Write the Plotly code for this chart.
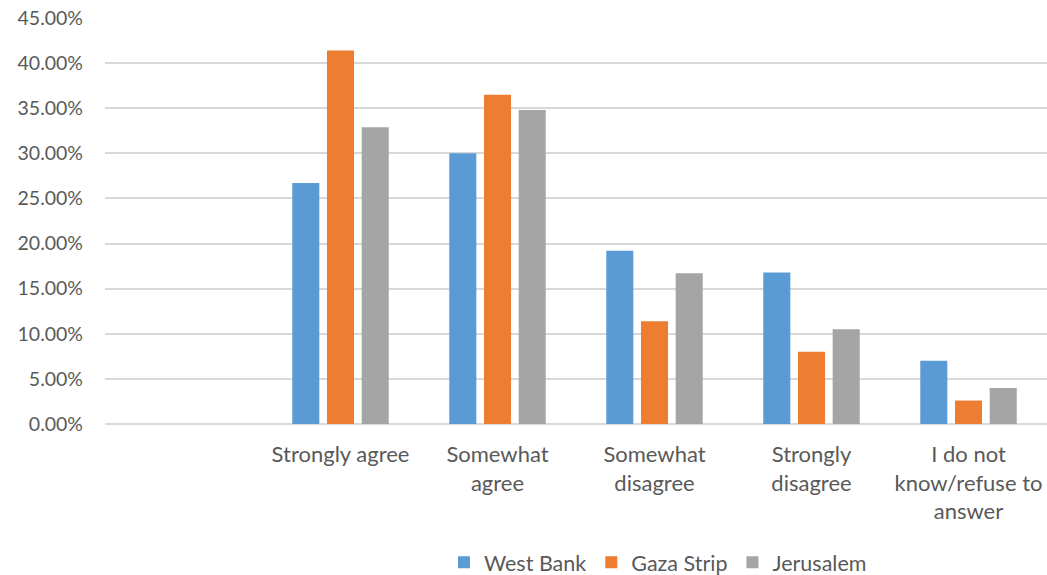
import plotly.graph_objects as go

categories = [" ", "Strongly agree", "Somewhat<br>agree", "Somewhat<br>disagree",
              "Strongly<br>disagree", "I do not<br>know/refuse to<br>answer"]
west_bank = [None, 0.267, 0.300, 0.192, 0.168, 0.070]
gaza_strip = [None, 0.414, 0.365, 0.114, 0.080, 0.026]
jerusalem = [None, 0.329, 0.348, 0.167, 0.105, 0.040]
y_ticks = [0, 0.05, 0.10, 0.15, 0.20, 0.25, 0.30, 0.35, 0.40, 0.45]

font_family = "Lato, Open Sans, sans-serif"
text_color = "#595959"

fig = go.Figure()
for name, vals, color in [("West Bank", west_bank, "#5B9BD5"),
                          ("Gaza Strip", gaza_strip, "#ED7D31"),
                          ("Jerusalem", jerusalem, "#A5A5A5")]:
    fig.add_trace(go.Bar(x=categories, y=vals, name=name, marker_color=color,
                         marker_line_width=0))

fig.update_layout(
    width=1047, height=575,
    margin=dict(l=105, r=0, t=18, b=151),
    plot_bgcolor="white", paper_bgcolor="white",
    barmode="group", bargap=0.337, bargroupgap=0.22,
    font=dict(family=font_family, size=20, color=text_color),
    showlegend=True,
    legend=dict(orientation="h", x=0.587, xanchor="center",
                yref="container", y=0.022, yanchor="middle",
                font=dict(size=21.5, color=text_color), traceorder="normal",
                itemwidth=30),
    xaxis=dict(type="category", categoryorder="array", categoryarray=categories,
               showgrid=False, showline=False, ticks="", automargin=False,
               ticklabelstandoff=15, tickfont=dict(size=22)),
    yaxis=dict(range=[0, 0.45], tickvals=y_ticks, tickformat=".2%", automargin=False,
               showgrid=True, gridcolor="#D9D9D9", gridwidth=1.5,
               zeroline=True, zerolinecolor="#D9D9D9", zerolinewidth=1.5,
               showline=False, ticks="", ticklabelstandoff=21, tickfont=dict(size=19.5)),
)

fig.write_html(
    "out.html",
    config={"displayModeBar": False},
    post_script="document.body.style.margin='0';document.body.style.overflow='hidden';",
)
